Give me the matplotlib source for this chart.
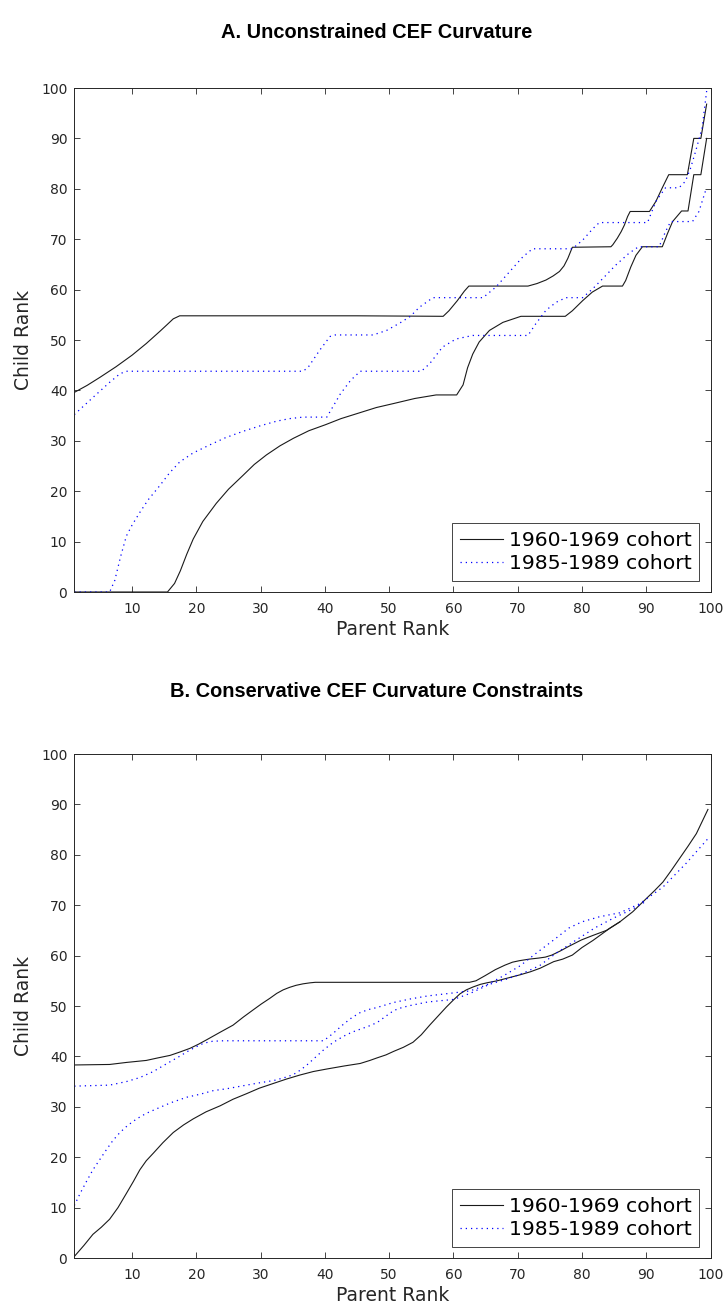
import matplotlib
matplotlib.use("Agg")
import matplotlib.pyplot as plt

# ---------------- data ----------------
# Panel A: unconstrained CEF curvature
a_old_up_x = [1, 3, 5, 7.5, 10, 12.2, 14.3, 15.4, 16.4, 17.4, 30, 45, 58.4, 59.3, 60.6, 61.7, 62.4, 71.6, 73.0,
              74.4, 75.5, 76.5, 77.2, 77.8, 78.5, 84.5, 84.8, 85.5, 86.1, 86.6, 87.1, 87.5, 90.5, 91.5, 92.5,
              93.5, 96.4, 97.4, 98.5, 99.4]
a_old_up_y = [39.6, 41.0, 42.6, 44.7, 47.0, 49.3, 51.7, 53.0, 54.2, 54.8, 54.8, 54.8, 54.7, 55.8, 57.8, 59.7, 60.7,
              60.7, 61.2, 61.9, 62.7, 63.6, 64.7, 66.2, 68.4, 68.5, 68.9, 70.2, 71.5, 72.8, 74.5, 75.5, 75.5,
              77.5, 80.2, 82.8, 82.8, 90.0, 90.0, 96.8]

a_old_lo_x = [1, 15.5, 16.6, 17.5, 18.5, 19.5, 21.0, 23.1, 25.0, 27.3, 29.0, 30.9, 33.0, 35.1, 37.5, 40.1, 42.5,
              45.5, 48.0, 50.7, 54.0, 57.3, 60.5, 61.5, 62.2, 63.0, 64.0, 65.6, 67.7, 70.5, 77.4, 78.5, 80.1,
              81.6, 83.2, 86.3, 86.8, 87.6, 88.4, 89.4, 92.5, 93.3, 94.1, 95.5, 96.5, 97.4, 98.5, 99.4]
a_old_lo_y = [0, 0, 1.7, 4.2, 7.5, 10.5, 14.0, 17.6, 20.4, 23.2, 25.3, 27.2, 29.0, 30.5, 32.0, 33.2, 34.4,
              35.6, 36.6, 37.4, 38.4, 39.1, 39.1, 41.1, 44.5, 47.2, 49.6, 51.9, 53.5, 54.7, 54.7, 55.8, 57.8,
              59.5, 60.7, 60.7, 61.8, 64.5, 66.8, 68.5, 68.5, 71.1, 73.5, 75.6, 75.6, 82.8, 82.8, 90.0]

a_new_up_x = [1, 3.9, 6.5, 8.1, 9.1, 36.6, 37.4, 39.2, 40.8, 41.6, 47.5, 49.6, 51.7, 53.3, 54.7, 56.8, 64.6,
              66.6, 68.7, 70.8, 72.3, 78.5, 80.1, 81.7, 82.7, 90.2, 91.5, 93.0, 95.1, 96.1, 96.9, 97.7, 98.7, 99.4]
a_new_up_y = [35.2, 38.6, 41.6, 43.3, 43.8, 43.8, 44.6, 48.0, 50.7, 51.0, 51.0, 51.9, 53.4, 54.7, 56.5, 58.4, 58.4,
              60.5, 63.5, 66.5, 68.1, 68.1, 69.8, 72.1, 73.3, 73.3, 77.5, 80.2, 80.2, 81.5, 84.1, 87.5, 92.1, 99.4]

a_new_lo_x = [1, 6.5, 7.3, 8.2, 9.1, 10.0, 11.2, 12.5, 14.3, 15.8, 17.4, 19.5, 22.1, 24.5, 27.3, 30.0, 32.5,
              34.5, 36.6, 40.3, 42.4, 44.0, 45.5, 55.0, 56.3, 58.3, 60.4, 63.0, 71.6, 72.8, 74.4, 76.0, 77.5,
              80.1, 81.7, 83.7, 85.2, 87.3, 88.8, 92.0, 93.0, 93.8, 97.2, 98.2, 99.2]
a_new_lo_y = [0, 0, 2.3, 7.0, 11.1, 13.3, 15.8, 18.3, 21.1, 23.6, 25.8, 27.6, 29.2, 30.6, 31.9, 33.0, 33.9,
              34.4, 34.7, 34.7, 39.3, 42.0, 43.8, 43.8, 45.3, 48.6, 50.2, 50.9, 50.9, 53.2, 55.9, 57.5, 58.4,
              58.4, 60.2, 62.8, 64.8, 67.2, 68.5, 68.5, 71.5, 73.5, 73.5, 75.5, 79.5]

# Panel B: conservative CEF curvature constraints
b_old_up_x = [1, 6.5, 9.1, 12.2, 14.0, 15.9, 17.5, 19.0, 20.3, 21.6, 23.7, 25.7, 27.3, 28.8, 30.1, 31.4, 32.5,
              33.5, 34.5, 35.5, 36.6, 37.7, 38.5, 50, 62.5, 63.5, 64.9, 66.5, 68.0, 69.2, 70.3, 71.8, 73.2,
              74.3, 75.3, 76.6, 77.9, 79.9, 81.7, 83.8, 85.9, 87.9, 90.0, 91.3, 92.6, 93.9, 95.2, 96.5, 97.8,
              98.7, 99.6]
b_old_up_y = [38.3, 38.4, 38.8, 39.2, 39.7, 40.2, 40.9, 41.6, 42.4, 43.3, 44.8, 46.2, 47.8, 49.2, 50.4, 51.5, 52.5,
              53.2, 53.7, 54.1, 54.4, 54.6, 54.7, 54.7, 54.7, 55.0, 56.0, 57.2, 58.1, 58.7, 59.0, 59.3, 59.5,
              59.7, 60.1, 60.9, 61.8, 63.1, 64.0, 65.0, 66.7, 68.7, 71.3, 72.9, 74.6, 76.9, 79.3, 81.7, 84.2,
              86.6, 89.0]

b_old_lo_x = [1, 2.5, 3.9, 5.2, 6.5, 7.8, 9.1, 10.2, 11.2, 12.2, 13.3, 14.8, 16.4, 18.0, 19.5, 21.5, 23.7,
              25.7, 27.8, 29.8, 31.9, 34.0, 36.1, 38.2, 40.3, 43.0, 45.5, 47.0, 48.1, 49.5, 50.7, 52.2, 53.7,
              55.0, 56.3, 57.6, 58.9, 60.0, 61.0, 62.0, 63.1, 64.2, 65.2, 66.8, 68.3, 70.4, 72.0, 73.5, 75.6,
              77.0, 78.5, 80.0, 81.7, 83.0, 84.3, 85.9]
b_old_lo_y = [0.3, 2.5, 4.7, 6.1, 7.7, 10.0, 12.8, 15.2, 17.5, 19.3, 20.8, 22.9, 24.9, 26.4, 27.6, 29.0, 30.2,
              31.5, 32.6, 33.7, 34.6, 35.5, 36.3, 37.0, 37.5, 38.1, 38.6, 39.2, 39.7, 40.3, 41.0, 41.8, 42.8,
              44.3, 46.2, 48.0, 49.8, 51.2, 52.4, 53.2, 53.8, 54.3, 54.6, 55.0, 55.5, 56.2, 56.8, 57.5, 58.8,
              59.3, 60.1, 61.6, 63.0, 64.2, 65.4, 66.7]

b_new_up_x = [1, 6.5, 9.1, 11.2, 13.3, 14.9, 16.4, 17.5, 18.5, 19.8, 21.1, 22.5, 24.2, 39.8, 41.3, 42.9, 44.2,
              45.5, 46.8, 48.1, 50.7, 53.3, 56.0, 60.0, 62.6, 65.2, 67.8, 70.4, 73.0, 75.6, 78.0, 80.0, 82.7,
              85.9, 89.0, 92.6, 96.2, 99.6]
b_new_up_y = [34.1, 34.3, 35.0, 35.8, 37.0, 38.2, 39.3, 40.1, 40.9, 41.8, 42.6, 43.0, 43.1, 43.1, 44.6, 46.4, 47.7,
              48.7, 49.3, 49.7, 50.7, 51.4, 52.0, 52.6, 53.0, 54.2, 56.0, 58.0, 60.6, 63.1, 65.5, 66.7, 67.7,
              68.5, 70.3, 73.6, 78.3, 83.2]

b_new_lo_x = [1, 1.9, 2.9, 3.9, 5.0, 6.0, 7.0, 8.1, 9.3, 10.7, 12.2, 13.8, 16.0, 18.5, 20.6, 22.6, 24.8, 27.8,
              30.0, 32.0, 34.0, 35.1, 36.2, 37.2, 38.5, 39.8, 41.3, 42.9, 44.2, 45.5, 46.8, 48.1, 49.4, 50.7,
              52.0, 53.3, 56.0, 60.0, 62.6, 65.6, 68.2, 70.8, 73.4, 76.0, 79.0, 82.0, 85.0, 88.0, 90.0]
b_new_lo_y = [10.4, 12.8, 15.2, 17.5, 19.6, 21.5, 23.3, 24.9, 26.3, 27.6, 28.7, 29.6, 30.8, 31.9, 32.5, 33.2, 33.6,
              34.3, 34.8, 35.2, 35.9, 36.4, 37.3, 38.3, 39.8, 41.3, 42.8, 44.0, 44.8, 45.4, 46.0, 46.7, 47.9,
              49.1, 49.7, 50.1, 50.8, 51.3, 52.5, 54.3, 55.3, 56.5, 58.0, 60.5, 63.0, 65.5, 67.5, 69.3, 70.8]

titles = ["A. Unconstrained CEF Curvature", "B. Conservative CEF Curvature Constraints"]
legend_labels = ["1960-1969 cohort", "1985-1989 cohort"]
x_label = "Parent Rank"
y_label = "Child Rank"
ticks = [0, 10, 20, 30, 40, 50, 60, 70, 80, 90, 100]

panels = [
    (a_old_up_x, a_old_up_y, a_old_lo_x, a_old_lo_y, a_new_up_x, a_new_up_y, a_new_lo_x, a_new_lo_y),
    (b_old_up_x, b_old_up_y, b_old_lo_x, b_old_lo_y, b_new_up_x, b_new_up_y, b_new_lo_x, b_new_lo_y),
]

# ---------------- figure ----------------
W, H = 727, 1306
fig = plt.figure(figsize=(W / 100, H / 100), dpi=100)
plt.rcParams['font.family'] = ['DejaVu Sans']

axis_col = '#262626'
ax_left, ax_right = 74.3, 710.5
tops = [88, 754]
ax_h = 504
title_baselines = [38, 697]
title_cx = 377

for i, (ouX, ouY, olX, olY, nuX, nuY, nlX, nlY) in enumerate(panels):
    top = tops[i]
    ax = fig.add_axes([ax_left / W, (H - top - ax_h) / H, (ax_right - ax_left) / W, ax_h / H])
    ln1, = ax.plot(ouX, ouY, color='#1a1a1a', lw=0.8, solid_joinstyle='round')
    ax.plot(olX, olY, color='#1a1a1a', lw=0.8, solid_joinstyle='round')
    ln2, = ax.plot(nuX, nuY, color='#0000ff', lw=0.9, linestyle=(0, (1, 3.2)))
    ax.plot(nlX, nlY, color='#0000ff', lw=0.9, linestyle=(0, (1, 3.2)))

    ax.set_xlim(1, 100)
    ax.set_ylim(0, 100)
    ax.set_xticks(ticks[1:])
    ax.set_yticks(ticks)
    ax.tick_params(direction='in', length=4.3, width=0.6, top=True, right=True,
                   labelsize=10, colors=axis_col)
    ax.tick_params(axis='x', pad=7)
    ax.tick_params(axis='y', pad=5)
    for sp in ax.spines.values():
        sp.set_color(axis_col)
        sp.set_linewidth(0.7)
    ax.set_xlabel(x_label, fontsize=13.5, color=axis_col, labelpad=3)
    ax.set_ylabel(y_label, fontsize=13.5, color=axis_col, labelpad=6)

    leg = ax.legend([ln1, ln2], legend_labels, loc='lower right', fontsize=14.7,
                    frameon=True, fancybox=False, framealpha=1, edgecolor=axis_col,
                    handlelength=2.1, handletextpad=0.3, borderpad=0.38,
                    labelspacing=0.2, borderaxespad=0.55)
    leg.get_frame().set_linewidth(0.6)

    fig.text(title_cx / W, 1 - title_baselines[i] / H, titles[i], ha='center', va='baseline',
             fontsize=14.4, fontweight='bold', family=['Liberation Sans', 'DejaVu Sans'])

fig.savefig('out.png', dpi=100)
